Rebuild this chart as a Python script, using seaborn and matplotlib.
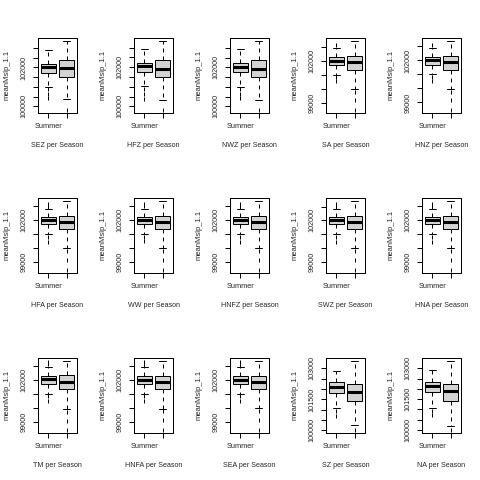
import numpy as np
import pandas as pd
import matplotlib
matplotlib.use("Agg")
import matplotlib.pyplot as plt
import seaborn as sns

sns.set_style("white")
plt.rcParams["font.family"] = ["Liberation Sans", "DejaVu Sans"]

seasons = ["Summer", "Winter"]
panels = ["SEZ", "HFZ", "NWZ", "SA", "HNZ",
          "HFA", "WW", "HNFZ", "SWZ", "HNA",
          "TM", "HNFA", "SEA", "SZ", "NA"]
axis_kind = ["A", "A", "A", "B", "B",
             "B", "B", "B", "B", "B",
             "B", "B", "B", "C", "C"]

# whisker low, Q1, median, Q3, whisker high (meanMslp_1.1)
summer_box = [
    [101010, 101720, 102010, 102200, 102910],  # SEZ
    [101030, 101740, 102040, 102220, 102940],  # HFZ
    [101000, 101740, 102020, 102200, 102930],  # NWZ
    [100990, 101700, 102000, 102240, 102880],  # SA
    [101000, 101700, 102010, 102230, 102900],  # HNZ
    [100990, 101720, 102030, 102270, 102810],  # HFA
    [101000, 101720, 102030, 102260, 102830],  # WW
    [100990, 101710, 102020, 102260, 102820],  # HNFZ
    [101000, 101720, 102030, 102270, 102830],  # SWZ
    [100990, 101720, 102020, 102260, 102820],  # HNA
    [100990, 101720, 102030, 102270, 102950],  # TM
    [101000, 101720, 102030, 102260, 102900],  # HNFA
    [100990, 101710, 102020, 102260, 102900],  # SEA
    [101080, 101810, 102110, 102320, 102880],  # SZ
    [101050, 101830, 102120, 102350, 102930],  # NA
]
winter_box = [
    [100350, 101530, 101950, 102390, 103380],  # SEZ
    [100330, 101515, 101920, 102390, 103345],  # HFZ
    [100330, 101520, 101930, 102380, 103370],  # NWZ
    [99975, 101320, 101890, 102300, 103415],   # SA
    [99980, 101330, 101880, 102310, 103410],   # HNZ
    [99975, 101360, 101910, 102320, 103415],   # HFA
    [99980, 101350, 101900, 102320, 103410],   # WW
    [99970, 101340, 101900, 102310, 103410],   # HNFZ
    [99980, 101360, 101910, 102320, 103415],   # SWZ
    [99975, 101350, 101900, 102320, 103410],   # HNA
    [99925, 101305, 101865, 102320, 103365],   # TM
    [99950, 101320, 101880, 102320, 103380],   # HNFA
    [99950, 101320, 101880, 102320, 103380],   # SEA
    [100240, 101420, 101860, 102240, 103370],  # SZ
    [100200, 101390, 101880, 102230, 103370],  # NA
]
summer_out = [
    [100900, 100650, 100420],
    [100900, 100650, 100390],
    [100880, 100620, 100400],
    [100820, 100520, 103080],
    [100820, 100500, 103080],
    [100820, 100460, 102990, 103180],
    [100820, 100470, 103000, 103170],
    [100820, 100460, 102990, 103160],
    [100820, 100470, 103000, 103180],
    [100820, 100460, 102990, 103170],
    [100820, 100460, 103120, 103300],
    [100820, 100470, 103080, 103280],
    [100820, 100460, 103080, 103280],
    [100950, 100700],
    [100900, 100720],
]
winter_out = [
    [99820],
    [99830],
    [99820],
    [99780, 99200, 98500],
    [99780, 99150, 98480],
    [99780, 99100, 98420],
    [99780, 99100, 98430],
    [99780, 99100, 98420],
    [99780, 99100, 98430],
    [99780, 99100, 98420],
    [99720, 99050, 98420],
    [99750, 99100, 98430],
    [99750, 99100, 98420],
    [100030],
    [100000],
]

yticks = {
    "A": [100000, 100500, 101000, 101500, 102000, 102500, 103000],
    "B": [99000, 100000, 101000, 102000, 103000],
    "C": [100000, 100500, 101000, 101500, 102000, 102500, 103000],
}
ylabels_shown = {
    "A": [100000, 102000],
    "B": [99000, 102000],
    "C": [100000, 101500, 103000],
}

fig = plt.figure(figsize=(4.8, 4.8), dpi=100)

for i, name in enumerate(panels):
    row, col = divmod(i, 5)
    ax = fig.add_axes([(col * 96 + 38) / 480, 1 - (row * 160 + 112.5) / 480,
                       39 / 480, 74.5 / 480])

    box_df = pd.DataFrame({"season": np.repeat(seasons, 5),
                           "mslp": summer_box[i] + winter_box[i]})
    out_df = pd.DataFrame({"season": ["Summer"] * len(summer_out[i]) + ["Winter"] * len(winter_out[i]),
                           "mslp": summer_out[i] + winter_out[i]})

    sns.boxplot(data=box_df, x="season", y="mslp", order=seasons, whis=(0, 100),
                width=0.8, color="#d3d3d3", saturation=1, linecolor="black",
                linewidth=0.72, showfliers=False,
                whiskerprops={"linestyle": (0, (4, 4))},
                medianprops={"linewidth": 2.2}, ax=ax)
    sns.stripplot(data=out_df, x="season", y="mslp", order=seasons, jitter=False,
                  marker="|", size=3.5, color="black", linewidth=0.72, ax=ax)

    vals = summer_box[i] + winter_box[i] + summer_out[i] + winter_out[i]
    lo, hi = min(vals), max(vals)
    ax.set_xlim(-0.58, 1.58)
    ax.set_ylim(lo - 0.04 * (hi - lo), hi + 0.04 * (hi - lo))

    kind = axis_kind[i]
    ax.set_yticks(yticks[kind])
    ax.set_yticklabels([str(t) if t in ylabels_shown[kind] else "" for t in yticks[kind]],
                       rotation=90, va="center", fontsize=5.2,
                       family=["Liberation Sans Narrow", "Liberation Sans"])
    ax.set_xticks([0, 1])
    ax.set_xticklabels(["Summer", ""], fontsize=5.3)
    ax.tick_params(direction="out", length=3.4, width=0.72, pad=4.0, color="black",
                   left=True, bottom=True)

    for sp in ax.spines.values():
        sp.set_visible(True)
        sp.set_color("black")
        sp.set_linewidth(0.72)

    ax.set_xlabel(f"{name} per Season", fontsize=5.1)
    ax.xaxis.set_label_coords(0.5, -0.40)
    ax.set_ylabel("meanMslp_1.1", fontsize=5.5)
    ax.yaxis.set_label_coords(-0.70, 0.5)

fig.savefig("out.png", dpi=100, facecolor="white")
